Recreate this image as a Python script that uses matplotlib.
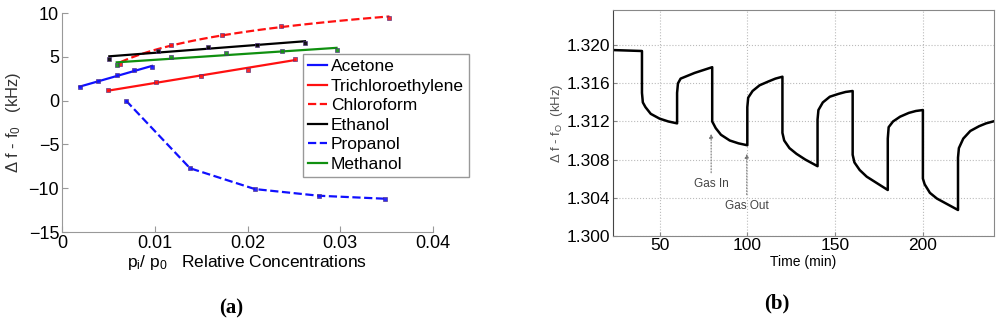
import matplotlib
matplotlib.use('Agg')
import matplotlib.pyplot as plt
from matplotlib import font_manager
import numpy as np

# fonts: arial-like, and a narrow one for panel (b) if there is one
names = set(f.name for f in font_manager.fontManager.ttflist)
narrow = 'Liberation Sans Narrow' if 'Liberation Sans Narrow' in names else 'Liberation Sans'
plt.rcParams['font.family'] = ['Liberation Sans', 'DejaVu Sans']
plt.rcParams['mathtext.default'] = 'regular'

# ---- panel (a) data: relative concentration vs frequency shift (kHz)
acetone_x = [0.0019, 0.0039, 0.0059, 0.0078, 0.0097]
acetone_y = [1.5, 2.26, 2.87, 3.47, 3.85]
tce_x = [0.0050, 0.0101, 0.0150, 0.0200, 0.0251]
tce_y = [1.2, 2.07, 2.79, 3.55, 4.8]
chloro_x = [0.0063, 0.0117, 0.0172, 0.0236, 0.0353]
chloro_y = [4.23, 6.4, 7.5, 8.56, 9.39]
ethanol_x = [0.0051, 0.0104, 0.0157, 0.0210, 0.0262]
ethanol_y = [4.8, 5.68, 6.13, 6.4, 6.59]
propanol_x = [0.0069, 0.0138, 0.0208, 0.0277, 0.0348]
propanol_y = [0.0, -7.72, -10.1, -10.86, -11.2]
methanol_x = [0.0059, 0.0118, 0.0177, 0.0237, 0.0296]
methanol_y = [4.04, 4.99, 5.49, 5.71, 5.75]

# ---- panel (b) data: time (min) vs frequency (kHz)
time = [23.5, 40, 40, 40.5, 42, 45, 50, 55, 60,
        60, 60.5, 62, 66, 70, 75, 80,
        80, 82, 85, 90, 95, 100,
        100, 100.5, 103, 107, 112, 116, 120,
        120, 121, 124, 128, 133, 140,
        140, 140.5, 143, 147, 152, 156, 160,
        160, 161, 164, 168, 174, 180,
        180, 180.5, 183, 187, 192, 196, 200,
        200, 201, 204, 208, 214, 220,
        220, 220.5, 223, 227, 232, 236, 240]
freq = [1.3195, 1.3194, 1.3150, 1.3140, 1.3135, 1.3128, 1.3123, 1.3120, 1.3118,
        1.3150, 1.3160, 1.3165, 1.3168, 1.3171, 1.3174, 1.3177,
        1.3120, 1.3113, 1.3106, 1.3100, 1.3097, 1.3095,
        1.3135, 1.3145, 1.3152, 1.3158, 1.3162, 1.3165, 1.3167,
        1.3108, 1.3100, 1.3092, 1.3086, 1.3080, 1.3073,
        1.3122, 1.3132, 1.3140, 1.3146, 1.3149, 1.3151, 1.3152,
        1.3085, 1.3077, 1.3069, 1.3062, 1.3055, 1.3048,
        1.3102, 1.3114, 1.3120, 1.3125, 1.3129, 1.3131, 1.3132,
        1.3060, 1.3054, 1.3045, 1.3039, 1.3033, 1.3027,
        1.3082, 1.3092, 1.3102, 1.3110, 1.3115, 1.3118, 1.3120]

fig = plt.figure(figsize=(10, 3.27), dpi=100)

# ================= (a)
ax1 = fig.add_axes([0.062, 0.2905, 0.371, 0.6697])
# fit: 'lin' = straight fit line, 'log' = log fit, None = join the points
series = [
    (acetone_x, acetone_y, '#1010ff', '-', 'Acetone', 'lin'),
    (tce_x, tce_y, '#ff1010', '-', 'Trichloroethylene', 'lin'),
    (chloro_x, chloro_y, '#ff1010', '--', 'Chloroform', 'log'),
    (ethanol_x, ethanol_y, 'black', '-', 'Ethanol', 'lin'),
    (propanol_x, propanol_y, '#1010ff', '--', 'Propanol', None),
    (methanol_x, methanol_y, '#109010', '-', 'Methanol', 'lin'),
]
for x, y, c, ls, lab, fit in series:
    if fit is None:
        ax1.plot(x, y, color=c, ls=ls, lw=1.6, label=lab)
    else:
        xs = np.linspace(min(x), max(x), 50)
        if fit == 'log':
            p = np.polyfit(np.log(x), y, 1)
            ys = np.polyval(p, np.log(xs))
        else:
            ys = np.polyval(np.polyfit(x, y, 1), xs)
        ax1.plot(xs, ys, color=c, ls=ls, lw=1.6, label=lab)
    ax1.plot(x, y, ls='none', marker='s', ms=2.6, mfc=c, mec='#503080', mew=0.5, alpha=0.9)

ax1.set_xlim(0, 0.04)
ax1.set_ylim(-15, 10)
ax1.set_xticks([0, 0.01, 0.02, 0.03, 0.04])
ax1.set_xticklabels(['0', '0.01', '0.02', '0.03', '0.04'])
ax1.set_yticks([-15, -10, -5, 0, 5, 10])
ax1.spines['top'].set_visible(False)
ax1.spines['right'].set_visible(False)
for s in ['left', 'bottom']:
    ax1.spines[s].set_color('#999999')
ax1.tick_params(direction='in', length=4, color='#999999', labelsize=13, pad=2)
ax1.set_ylabel(r'$\Delta$ f - f$_0$   (kHz)', fontsize=12, color='#333333', labelpad=4)
ax1.set_xlabel(r'p$_i$/ p$_0$   Relative Concentrations', fontsize=12.5, labelpad=1)

leg = ax1.legend(loc='upper left', bbox_to_anchor=(0.65, 0.813), borderaxespad=0,
                 fontsize=12.5, handlelength=1.1, handletextpad=0.2,
                 labelspacing=0.25, borderpad=0.3, fancybox=False, framealpha=1)
leg.get_frame().set_edgecolor('#999999')
leg.get_frame().set_linewidth(1.0)

fig.text(0.231, 0.058, '(a)', family='Liberation Serif', weight='bold', fontsize=15,
         ha='center', va='center')

# ================= (b)
ax2 = fig.add_axes([0.613, 0.2792, 0.381, 0.690])
ax2.plot(time, freq, color='black', lw=1.8)
ax2.set_xlim(23.5, 240.5)
ax2.set_ylim(1.300, 1.3237)
ax2.set_xticks([50, 100, 150, 200])
ax2.set_yticks([1.300, 1.304, 1.308, 1.312, 1.316, 1.320])
ax2.set_yticklabels(['1.300', '1.304', '1.308', '1.312', '1.316', '1.320'])
ax2.grid(True, ls=':', color='#bbbbbb', lw=0.8)
for s in ax2.spines.values():
    s.set_color('#888888')
ax2.spines['left'].set_color('#444444')
ax2.tick_params(direction='in', length=3, color='#888888', labelsize=12.5, pad=2)
for lab in ax2.get_xticklabels() + ax2.get_yticklabels():
    lab.set_family(narrow)
ax2.set_xlabel('Time (min)', fontsize=10, family=narrow, labelpad=1)
ax2.set_ylabel(r'$\Delta$ f - f$_O$  (kHz)', fontsize=9.5, family=narrow,
               color='#555555', labelpad=1)

arrow = dict(arrowstyle='-|>', ls=':', color='#777777', lw=0.8, mutation_scale=6)
ax2.annotate('Gas In', xy=(79.4, 1.3110), xytext=(79.4, 1.3054), fontsize=8.5,
             family=narrow, color='#444444', ha='center', va='center', arrowprops=arrow)
ax2.annotate('Gas Out', xy=(99.7, 1.3089), xytext=(99.7, 1.3031), fontsize=8.5,
             family=narrow, color='#444444', ha='center', va='center', arrowprops=arrow)

fig.text(0.777, 0.073, '(b)', family='Liberation Serif', weight='bold', fontsize=15,
         ha='center', va='center')

fig.savefig('out.png', dpi=100)
